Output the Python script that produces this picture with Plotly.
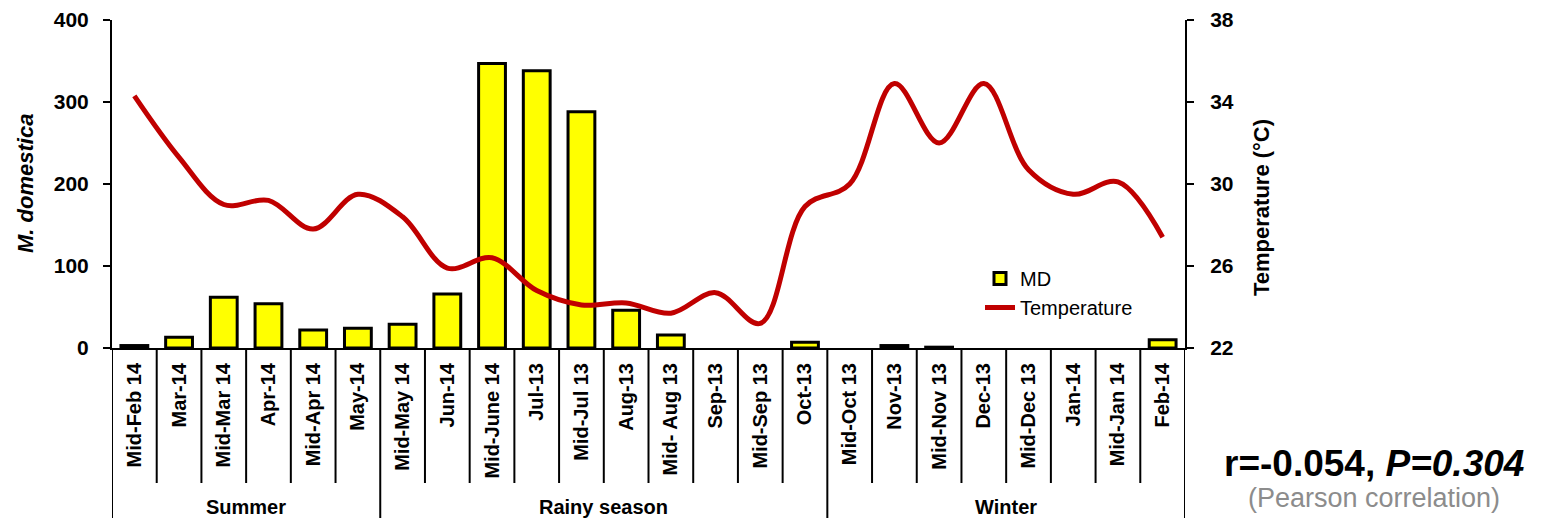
import plotly.graph_objects as go

categories = ["Mid-Feb 14", "Mar-14", "Mid-Mar 14", "Apr-14", "Mid-Apr 14", "May-14",
              "Mid-May 14", "Jun-14", "Mid-June 14", "Jul-13", "Mid-Jul 13", "Aug-13",
              "Mid- Aug 13", "Sep-13", "Mid-Sep 13", "Oct-13",
              "Mid-Oct 13", "Nov-13", "Mid-Nov 13", "Dec-13", "Mid-Dec 13", "Jan-14",
              "Mid-Jan 14", "Feb-14"]
md_counts = [3, 13, 62, 54, 22, 24, 29, 66, 347, 338, 288, 46, 16, 0, 0, 7,
             0, 3, 1, 0, 0, 0, 0, 10]
temperature = [34.3, 31.3, 29.0, 29.2, 27.8, 29.5, 28.4, 25.9, 26.4, 24.8, 24.1, 24.2,
               23.7, 24.7, 23.2, 28.9, 30.0, 34.9, 32.0, 34.9, 30.7, 29.5, 30.1, 27.4]
seasons = ["Summer", "Rainy season", "Winter"]
season_lengths = [6, 10, 8]
left_ticks = [0, 100, 200, 300, 400]
right_ticks = [22, 26, 30, 34, 38]

FONT = "Liberation Sans, Arial, sans-serif"

fig = go.Figure()
fig.add_trace(go.Bar(
    x=categories, y=md_counts, name="MD", width=0.6,
    marker=dict(color="#FFFF00",
                line=dict(color="black", width=[3 if v > 0 else 0 for v in md_counts])),
))
fig.add_trace(go.Scatter(
    x=categories, y=temperature, name="Temperature", yaxis="y2", mode="lines",
    line=dict(color="#C00000", width=5, shape="spline", smoothing=1.0),
))

# page body has an 8px margin; plot area spans 348-20 = 328 px vertically
PLOT_H = 328.0
PLOT_W = 1073.0
def py(px_below_axis):
    return -px_below_axis / PLOT_H
def px_right(px_beyond_axis):
    return 1.0 + px_beyond_axis / PLOT_W

shapes = []
n = len(categories)
season_bounds = [0]
for L in season_lengths:
    season_bounds.append(season_bounds[-1] + L)
for i in range(1, n):
    if i in season_bounds:
        continue
    shapes.append(dict(type="line", xref="x", yref="paper", x0=i - 0.5, x1=i - 0.5,
                       y0=0, y1=py(135), line=dict(color="black", width=2)))
for b in season_bounds:
    shapes.append(dict(type="line", xref="x", yref="paper", x0=b - 0.5, x1=b - 0.5,
                       y0=0, y1=py(175), line=dict(color="black", width=2)))

annotations = []
for s, a, b in zip(seasons, season_bounds[:-1], season_bounds[1:]):
    annotations.append(dict(text=s, xref="x", yref="paper", x=(a + b - 1) / 2.0,
                            y=py(159), showarrow=False, xanchor="center", yanchor="middle",
                            font=dict(family=FONT, size=20, color="black", weight="bold")))
annotations.append(dict(text="<b><i>M. domestica</i></b>", xref="paper", yref="paper",
                        x=-87 / PLOT_W, y=(348 - 184) / PLOT_H, textangle=-90,
                        showarrow=False, xanchor="center", yanchor="middle",
                        font=dict(family=FONT, size=22, color="black")))
annotations.append(dict(text="<b>Temperature (°C)</b>", xref="paper", yref="paper",
                        x=px_right(76), y=(348 - 208) / PLOT_H, textangle=-90,
                        showarrow=False, xanchor="center", yanchor="middle",
                        font=dict(family=FONT, size=22, color="black")))
annotations.append(dict(text="<b>r=-0.054, <i>P=0.304</i></b>", xref="paper", yref="paper",
                        x=px_right(1374 - 1185), y=py(463 - 348), showarrow=False,
                        xanchor="center", yanchor="middle",
                        font=dict(family=FONT, size=37, color="black")))
annotations.append(dict(text="(Pearson correlation)", xref="paper", yref="paper",
                        x=px_right(1374 - 1185), y=py(498 - 348), showarrow=False,
                        xanchor="center", yanchor="middle",
                        font=dict(family=FONT, size=27, color="#8C8C8C")))

fig.update_layout(
    width=1537, height=510, autosize=False,
    margin=dict(l=104, r=360, t=12, b=170, pad=0, autoexpand=False),
    paper_bgcolor="white", plot_bgcolor="white",
    font=dict(family=FONT, color="black"),
    showlegend=True,
    legend=dict(x=(980 - 112) / PLOT_W, y=(348 - 259) / PLOT_H, xanchor="left", yanchor="top",
                bgcolor="rgba(0,0,0,0)", font=dict(family=FONT, size=20, color="black"),
                itemwidth=30, tracegroupgap=0),
    xaxis=dict(type="category", range=[-0.5, n - 0.5], showline=True, linecolor="black",
               linewidth=2, ticks="", tickangle=-90, showgrid=False, automargin=False,
               tickfont=dict(family=FONT, size=20, color="black", weight="bold"),
               ticklabelstandoff=5, fixedrange=True),
    yaxis=dict(range=[0, 400], tickvals=left_ticks, showline=True, linecolor="black",
               linewidth=2, ticks="outside", ticklen=7, tickwidth=2, tickcolor="black",
               showgrid=False, zeroline=False, ticklabelstandoff=10, automargin=False,
               tickfont=dict(family=FONT, size=21, color="black", weight="bold")),
    yaxis2=dict(range=[22, 38], tickvals=right_ticks, overlaying="y", side="right",
                showline=True, linecolor="black", linewidth=2, ticks="outside", ticklen=7,
                tickwidth=2, tickcolor="black", showgrid=False, zeroline=False,
                ticklabelstandoff=12, automargin=False,
                tickfont=dict(family=FONT, size=21, color="black", weight="bold")),
    shapes=shapes,
    annotations=annotations,
)

fig.write_html("out.html")
